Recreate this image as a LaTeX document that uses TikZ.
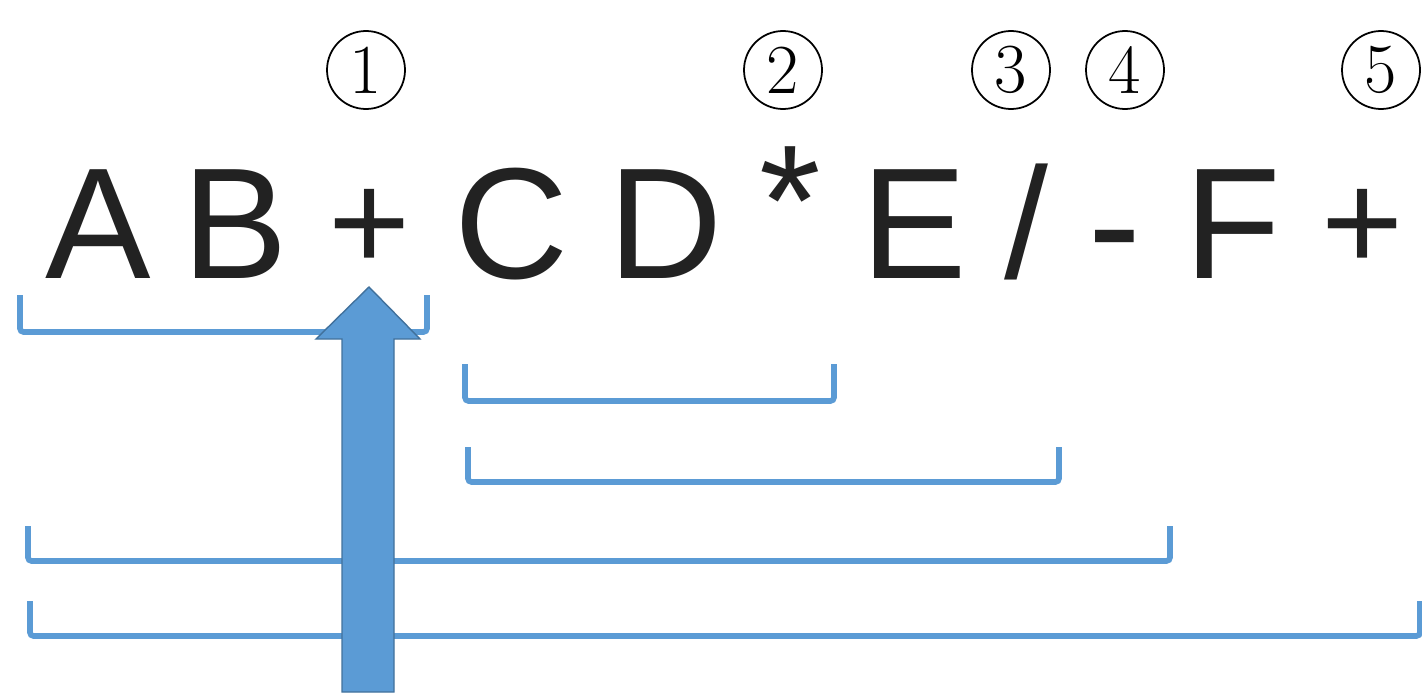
\documentclass[tikz,border=0pt]{standalone}
\usepackage{fontspec}
\newfontfamily\tokenfont{Liberation Sans}
\definecolor{spanblue}{HTML}{5B9BD5}
\definecolor{arrowedge}{HTML}{41719C}
\definecolor{glyph}{HTML}{222222}
\tikzset{
  token/.style={anchor=base, inner sep=0pt, text=glyph, font=\tokenfont\fontsize{90}{100}\selectfont},
  optoken/.style={token, font=\tokenfont\fontsize{80}{90}\selectfont, yshift=0.16cm},
  marker/.style={circle, draw, line width=1pt, minimum size=1.56cm, inner sep=0pt, font=\fontsize{40}{44}\selectfont},
  operand/.style={draw=spanblue, line width=3.2pt, rounded corners=2pt},
}
\begin{document}
\begin{tikzpicture}
    \useasboundingbox (0,0) rectangle (28.44,13.96);

    % Define the postfix expression
    \node[token] (tA) at (1.96,8.4) {A};
    \node[token] (tB) at (4.70,8.4) {B};
    \node[optoken] (tPlusA) at (7.40,8.4) {+};
    \node[token] (tC) at (10.24,8.4) {C};
    \node[token] (tD) at (13.32,8.4) {D};
    \node[token, yshift=0.45cm] (tStar) at (15.80,8.4) {*};
    \node[token] (tE) at (18.28,8.4) {E};
    \node[token] (tSlash) at (20.52,8.4) {/};
    \node[token] (tMinus) at (22.30,8.4) {-};
    \node[token] (tF) at (24.66,8.4) {F};
    \node[optoken] (tPlusB) at (27.26,8.4) {+};

    % Label the operators in order
    \node[marker] (m1) at (7.32,12.56) {1};
    \node[marker] (m2) at (15.66,12.56) {2};
    \node[marker] (m3) at (20.22,12.56) {3};
    \node[marker] (m4) at (22.50,12.56) {4};
    \node[marker] (m5) at (27.62,12.56) {5};

    % Draw the operand spans
    \draw[operand] (0.40,8.06) -- (0.40,7.32) -- (8.54,7.32) -- (8.54,8.06);
    \draw[operand] (9.30,6.68) -- (9.30,5.94) -- (16.68,5.94) -- (16.68,6.68);
    \draw[operand] (9.36,5.02) -- (9.36,4.32) -- (21.18,4.32) -- (21.18,5.02);
    \draw[operand] (0.56,3.44) -- (0.56,2.74) -- (23.40,2.74) -- (23.40,3.44);
    \draw[operand] (0.60,1.94) -- (0.60,1.24) -- (28.40,1.24) -- (28.40,1.94);

    % Draw the scan arrow
    \draw[fill=spanblue, draw=arrowedge, line width=0.8pt]
        (6.84,0.12) -- (6.84,7.18) -- (6.32,7.18) -- (7.38,8.22)
        -- (8.40,7.18) -- (7.88,7.18) -- (7.88,0.12) -- cycle;

\end{tikzpicture}
\end{document}
